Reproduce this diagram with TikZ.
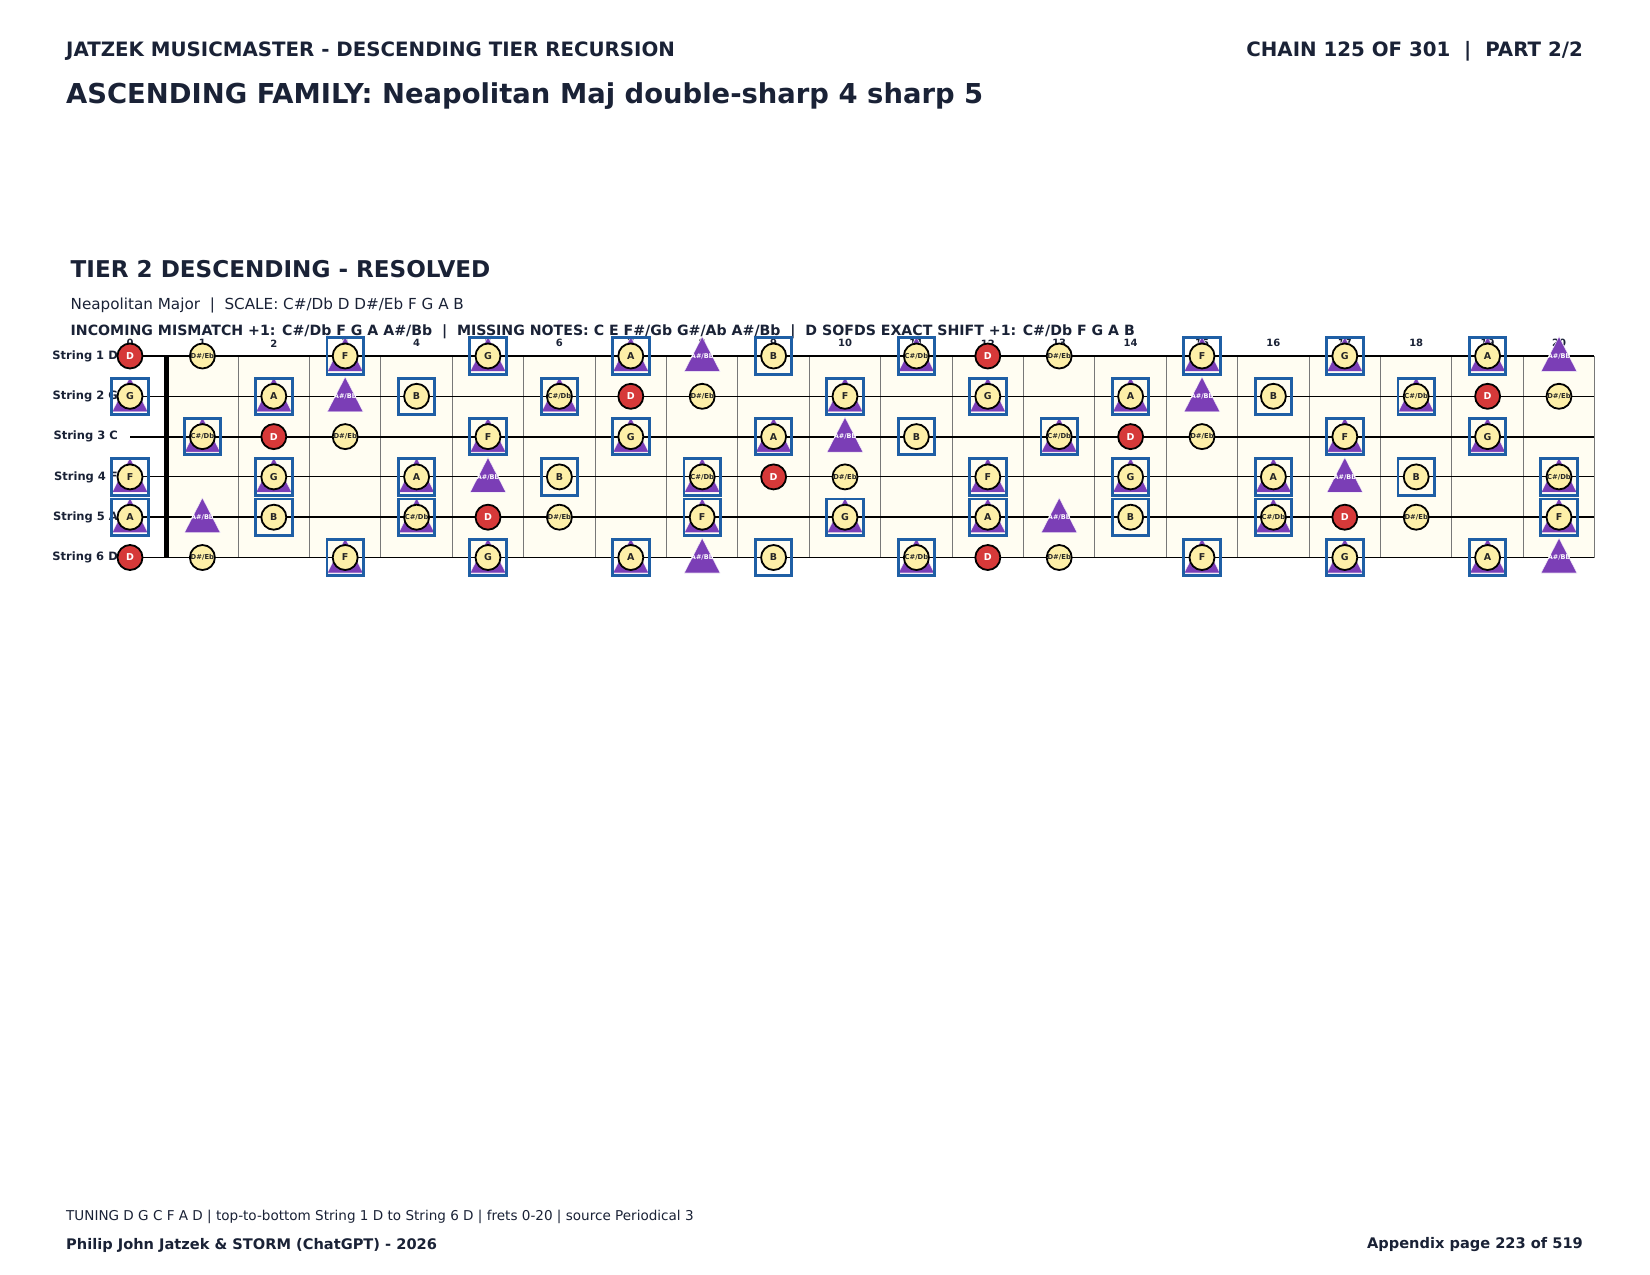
\documentclass[tikz,border=0pt]{standalone}
\usepackage{fontspec}
\setmainfont{DejaVu Sans}
\definecolor{navy}{RGB}{26,34,54}
\definecolor{rootred}{RGB}{214,57,57}
\definecolor{noteyellow}{RGB}{253,239,168}
\definecolor{tripurple}{RGB}{123,62,182}
\definecolor{boxblue}{RGB}{31,95,165}
\definecolor{cream}{RGB}{255,253,242}
\definecolor{fretgray}{RGB}{120,120,120}
\newcommand\fsz[1]{\fontsize{#1}{#1}\selectfont}
\begin{document}
\begin{tikzpicture}[x=1pt,y=-1pt,
  txt/.style={text=navy, inner sep=0pt},
  headl/.style={txt, anchor=west, font=\fsz{19.8}\bfseries},
  headr/.style={txt, anchor=east, font=\fsz{19.8}\bfseries},
  titlel/.style={txt, anchor=west, font=\fsz{27.4}\bfseries},
  tierl/.style={txt, anchor=west, font=\fsz{23.1}\bfseries},
  scalel/.style={txt, anchor=west, font=\fsz{15.2}},
  incl/.style={txt, anchor=west, font=\fsz{14.15}\bfseries},
  footl/.style={txt, anchor=west, font=\fsz{13.55}},
  footb/.style={txt, anchor=west, font=\fsz{14.6}\bfseries},
  footr/.style={txt, anchor=east, font=\fsz{14.6}\bfseries},
  fretlbl/.style={txt, font=\fsz{10}\bfseries},
  strlbl/.style={txt, anchor=east, font=\fsz{11.5}\bfseries},
  notec/.style={circle, draw=black, line width=1.8pt, minimum size=25pt, inner sep=0pt, fill=noteyellow, text=black!85, font=\fsz{9.5}\bfseries},
  rootc/.style={notec, fill=rootred, text=white},
  smalltxt/.style={font=\fsz{6.8}\bfseries},
  trifill/.style={fill=tripurple, draw=white, draw opacity=0.75, line width=0.7pt},
  trilbl/.style={inner sep=0pt, text=white, font=\fsz{6.5}\bfseries},
  sbox/.style={rectangle, draw=boxblue, line width=2.9pt, minimum size=36.5pt, inner sep=0pt},
  fretline/.style={draw=fretgray, line width=1pt},
  strline/.style={draw=black, line width=1.1pt},
  strthick/.style={draw=black, line width=1.8pt},
  nutline/.style={draw=black, line width=4.8pt}
]
\useasboundingbox (0,0) rectangle (1650,1275);
\fill[white] (0,0) rectangle (1650,1275);

% headings
\node[headl] (h1) at (66,51.5) {JATZEK MUSICMASTER - DESCENDING TIER RECURSION};
\node[headr] (h2) at (1583,51.5) {CHAIN 125 OF 301\ \ |\ \ PART 2/2};
\node[titlel] (h3) at (66,95.6) {ASCENDING FAMILY: Neapolitan Maj double-sharp 4 sharp 5};
\node[tierl] (t1) at (70.5,269.5) {TIER 2 DESCENDING - RESOLVED};
\node[scalel] (t2) at (70.5,305) {Neapolitan Major\ \ |\ \ SCALE: C\#/Db D D\#/Eb F G A B};
\node[incl] (t3) at (70.5,332) {INCOMING MISMATCH +1: C\#/Db F G A A\#/Bb\ \ |\ \ MISSING NOTES: C E F\#/Gb G\#/Ab A\#/Bb\ \ |\ \ D SOFDS EXACT SHIFT +1: C\#/Db F G A B};

% footer
\node[footl] (f1) at (66,1217) {TUNING D G C F A D | top-to-bottom String 1 D to String 6 D | frets 0-20 | source Periodical 3};
\node[footb] (f2) at (66,1245) {Philip John Jatzek \& STORM (ChatGPT) - 2026};
\node[footr] (f3) at (1583,1245) {Appendix page 223 of 519};

% fretboard background
\fill[cream] (166.7,356) rectangle (1594,557.5);
\foreach \k in {1,...,20} {
  \draw[fretline] ({166.7+\k*71.4},356) -- ({166.7+\k*71.4},557.5);
}
\foreach \s in {1,...,6} {
  \pgfmathsetmacro\yy{356+(\s-1)*40.3}
  \ifnum\s=3 \draw[strthick] (130,\yy) -- (1594,\yy);
  \else\ifnum\s=5 \draw[strthick] (130,\yy) -- (1594,\yy);
  \else \draw[strline] (130,\yy) -- (1594,\yy);
  \fi\fi
}
\draw[nutline] (166.7,356) -- (166.7,557.5);

% string labels
\foreach \s/\nm in {1/D,2/G,3/C,4/F,5/A,6/D} {
  \pgfmathsetmacro\yy{356+(\s-1)*40.3}
  \node[strlbl] (sl\s) at (118,\yy) {String \s\ \nm};
}

% fret numbers
\foreach \f in {0,...,20} {
  \pgfmathsetmacro\xx{\f==0 ? 130 : 202.4+(\f-1)*71.4}
  \node[fretlbl] (fn\f) at (\xx,343.3) {\f};
}

% markers
\foreach \s/\o in {1/2,2/7,3/0,4/5,5/9,6/2} {
  \foreach \f in {0,...,20} {
    \pgfmathtruncatemacro\nt{mod(\o+\f,12)}
    \pgfmathsetmacro\xx{\f==0 ? 130 : 202.4+(\f-1)*71.4}
    \pgfmathsetmacro\yy{356+(\s-1)*40.3}
    \ifcase\nt
      \def\cc{0}\def\tri{0}\def\bx{0}\or
      \def\cc{1}\def\tri{1}\def\bx{1}\or
      \def\cc{2}\def\tri{0}\def\bx{0}\or
      \def\cc{1}\def\tri{0}\def\bx{0}\or
      \def\cc{0}\def\tri{0}\def\bx{0}\or
      \def\cc{1}\def\tri{1}\def\bx{1}\or
      \def\cc{0}\def\tri{0}\def\bx{0}\or
      \def\cc{1}\def\tri{1}\def\bx{1}\or
      \def\cc{0}\def\tri{0}\def\bx{0}\or
      \def\cc{1}\def\tri{1}\def\bx{1}\or
      \def\cc{0}\def\tri{1}\def\bx{0}\or
      \def\cc{1}\def\tri{0}\def\bx{1}\fi
    \def\nname{\ifcase\nt C\or C\#/Db\or D\or D\#/Eb\or E\or F\or F\#/Gb\or G\or G\#/Ab\or A\or A\#/Bb\or B\fi}
    \ifnum\tri=1
      \fill[trifill] ({\xx},{\yy-19.5}) -- ({\xx-18},{\yy+15.5}) -- ({\xx+18},{\yy+15.5}) -- cycle;
      \ifnum\cc=0
        \node[trilbl] (tl-\s-\f) at (\xx,\yy) {\nname};
      \fi
    \fi
    \ifnum\cc=1
      \ifodd\nt
        \ifnum\nt=1 \node[notec, smalltxt] (c-\s-\f) at (\xx,\yy) {\nname};
        \else\ifnum\nt=3 \node[notec, smalltxt] (c-\s-\f) at (\xx,\yy) {\nname};
        \else \node[notec] (c-\s-\f) at (\xx,\yy) {\nname};
        \fi\fi
      \else
        \node[notec] (c-\s-\f) at (\xx,\yy) {\nname};
      \fi
    \fi
    \ifnum\cc=2
      \node[rootc] (c-\s-\f) at (\xx,\yy) {D};
    \fi
    \ifnum\bx=1
      \node[sbox] (b-\s-\f) at (\xx,\yy) {};
    \fi
  }
}
\end{tikzpicture}
\end{document}
